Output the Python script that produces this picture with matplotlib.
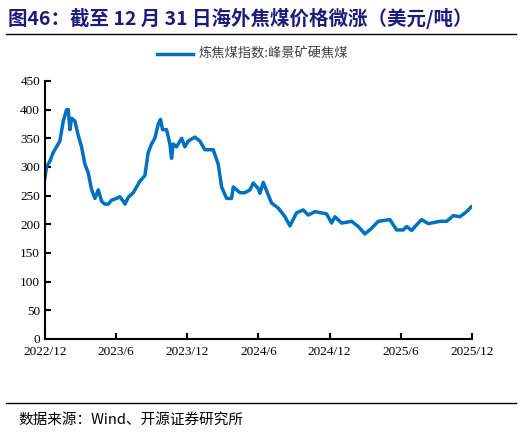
import matplotlib
matplotlib.use("Agg")
import matplotlib.pyplot as plt
from matplotlib.lines import Line2D

plt.rcParams['font.family'] = ['Noto Sans CJK SC', 'DejaVu Sans']

# months since 2022/12
months = [0.0, 0.14, 0.42, 0.70, 0.98, 1.26, 1.55, 1.83, 1.97, 2.11, 2.25, 2.53, 2.81, 3.09, 3.37,
          3.65, 3.94, 4.22, 4.50, 4.78, 5.06, 5.34, 5.62, 6.04, 6.32, 6.61, 6.75, 7.03, 7.45, 8.01,
          8.43, 8.71, 8.99, 9.27, 9.56, 9.75, 9.92, 10.26, 10.54, 10.68, 10.82, 11.1, 11.53, 11.8,
          12.08, 12.65, 13.07, 13.49, 14.19, 14.61, 14.9, 15.32, 15.74, 15.88, 16.16, 16.44, 16.86,
          17.29, 17.57, 17.99, 18.13, 18.41, 19.11, 19.68, 20.24, 20.66, 21.22, 21.78, 22.2, 22.77,
          23.75, 24.17, 24.45, 25.02, 25.86, 26.42, 26.98, 27.55, 28.1, 29.09, 29.65, 30.21, 30.5,
          30.92, 31.34, 31.76, 32.32, 33.31, 33.87, 34.43, 34.99, 35.56, 35.98, 36.26]
prices = [280, 300, 310, 325, 335, 345, 380, 400, 400, 365, 385, 380, 355, 335, 305,
          290, 260, 245, 260, 240, 235, 235, 242, 245, 248, 240, 235, 247, 255, 275,
          285, 325, 340, 350, 375, 383, 365, 365, 340, 315, 340, 335, 350, 335,
          345, 352, 345, 330, 330, 305, 265, 245, 245, 265, 260, 255, 255,
          260, 272, 262, 254, 273, 237, 228, 213, 197, 220, 225, 216, 222,
          218, 202, 213, 202, 205, 196, 183, 193, 205, 208, 190, 190, 196,
          189, 199, 208, 201, 205, 205, 215, 213, 222, 231, 231]
tick_pos = [0, 6, 12, 18, 24, 30, 36]
tick_labels = ['2022/12', '2023/6', '2023/12', '2024/6', '2024/12', '2025/6', '2025/12']
yticks = [0, 50, 100, 150, 200, 250, 300, 350, 400, 450]

fig = plt.figure(figsize=(5.22, 4.4), dpi=100)
ax = fig.add_axes([0.086, 0.23, 0.818, 0.586])
ax.plot(months, prices, color='#0070C0', lw=2.5)
ax.set_xlim(0, 36)
ax.set_ylim(0, 450)
ax.set_yticks(yticks)
ax.set_xticks(tick_pos)
ax.set_xticklabels(tick_labels)
for s in ['top', 'right']:
    ax.spines[s].set_visible(False)
for s in ['left', 'bottom']:
    ax.spines[s].set_linewidth(1.5)
ax.tick_params(axis='x', direction='in', length=4, width=1.5, labelsize=9.5, pad=5)
ax.tick_params(axis='y', direction='in', length=4, width=1.5, labelsize=9.5)
for l in ax.get_xticklabels() + ax.get_yticklabels():
    l.set_fontfamily(['Liberation Serif', 'DejaVu Serif'])

fig.text(0.015, 0.957, '图46：截至 12 月 31 日海外焦煤价格微涨（美元/吨）', fontsize=14,
         fontweight='bold', color='#1C1C7C', va='center', family=['Noto Sans CJK SC', 'DejaVu Sans'])
fig.add_artist(Line2D([0.012, 0.988], [0.922, 0.922], color='black', lw=1))
fig.add_artist(Line2D([0.30, 0.37], [0.878, 0.878], color='#0070C0', lw=2.5))
fig.text(0.38, 0.878, '炼焦煤指数:峰景矿硬焦煤', fontsize=9.5, color='#404040', va='center')
fig.add_artist(Line2D([0.012, 0.988], [0.083, 0.083], color='black', lw=1))
fig.text(0.035, 0.047, '数据来源：Wind、开源证券研究所', fontsize=10.5, color='black', va='center')

fig.savefig('out.png', dpi=100)
